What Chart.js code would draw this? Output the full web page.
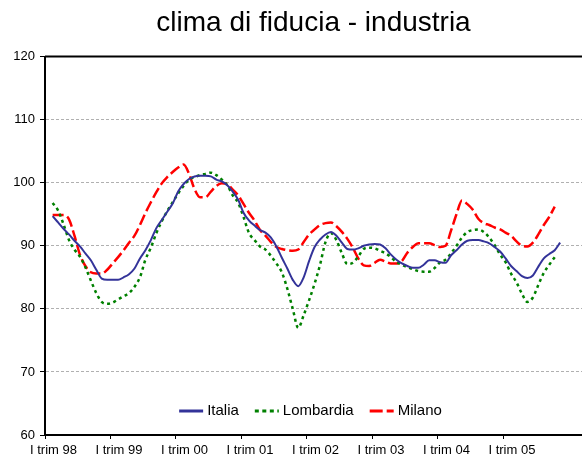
<!DOCTYPE html>
<html>
<head>
<meta charset="utf-8">
<script src="https://cdn.jsdelivr.net/npm/chart.js@4.4.0/dist/chart.umd.min.js"></script>
<style>
  body { margin: 0; background: #fff; }
  #wrap { position: relative; width: 582px; height: 459px; }
</style>
</head>
<body>
<div id="wrap"><canvas id="fiducia"></canvas></div>
<script>
const FONT = '"Liberation Sans", Arial, sans-serif';

// first quarter of every year, one tick every 12 months
const yearLabels = ['I trim 98', 'I trim 99', 'I trim 00', 'I trim 01', 'I trim 02', 'I trim 03', 'I trim 04', 'I trim 05'];
// first plotted month sits a little after the I trim 98 tick
const startMonth = 1.4;

const italia = [
  94.7, 93.7, 92.7, 91.8, 90.8, 89.9, 88.8, 87.7, 86.2, 84.8, 84.6, 84.6,
  84.6, 85.0, 85.5, 86.4, 88.0, 89.3, 90.9, 92.8, 94.1, 95.4, 96.7, 98.6,
  99.8, 100.6, 101.0, 101.1, 101.1, 101.0, 100.5, 100.2, 99.6, 98.6, 97.3, 95.2,
  94.0, 93.2, 92.5, 92.1, 91.3, 89.9, 88.1, 86.4, 84.6, 83.6, 85.0, 87.6,
  89.8, 91.0, 91.8, 92.2, 91.6, 90.5, 89.5, 89.4, 89.6, 90.0, 90.2, 90.3,
  90.2, 89.6, 88.6, 87.8, 87.2, 86.8, 86.5, 86.5, 87.0, 87.7, 87.7, 87.4,
  87.3, 88.5, 89.3, 90.2, 90.8, 90.9, 90.9, 90.7, 90.4, 89.8, 89.1, 88.0,
  86.8, 86.0, 85.2, 84.9, 85.3, 86.7, 88.0, 88.7, 89.3, 90.5
];

const lombardia = [
  96.8, 95.6, 93.4, 90.9, 89.4, 88.3, 86.6, 84.5, 82.5, 81.1, 80.8, 81.0,
  81.5, 82.0, 82.5, 83.5, 85.0, 87.8, 89.7, 92.0, 93.9, 95.5, 96.9, 98.3,
  99.5, 100.5, 100.9, 101.2, 101.4, 101.6, 101.2, 100.5, 99.6, 98.0, 96.8, 94.5,
  92.0, 90.9, 89.9, 89.4, 88.4, 87.2, 85.8, 83.2, 80.0, 77.0, 79.0, 81.4,
  84.0, 87.0, 90.6, 92.0, 90.9, 88.8, 87.1, 87.3, 88.3, 89.5, 89.7, 89.6,
  89.2, 88.8, 88.2, 87.4, 87.0, 86.6, 86.3, 86.0, 85.9, 85.9, 86.5, 87.4,
  87.8, 88.8, 90.0, 91.3, 92.2, 92.5, 92.6, 92.2, 91.3, 90.1, 88.6, 87.4,
  85.6, 84.2, 82.4, 81.1, 81.8, 83.8, 85.7, 87.0, 88.2
];

const milano = [
  94.9, 94.9, 94.9, 94.2, 91.6, 88.6, 86.8, 85.8, 85.6, 85.6, 86.2, 87.2,
  88.2, 89.3, 90.5, 91.6, 93.3, 95.2, 96.9, 98.5, 99.9, 100.9, 101.7, 102.4,
  102.9, 101.4, 99.0, 97.7, 97.7, 98.6, 99.5, 99.9, 99.8, 98.9, 98.0, 96.6,
  95.2, 94.0, 92.5, 91.6, 90.6, 89.8, 89.5, 89.3, 89.2, 89.4, 90.6, 91.8,
  92.6, 93.3, 93.6, 93.7, 93.1, 92.2, 91.1, 89.7, 88.0, 86.9, 86.8, 87.3,
  87.8, 87.5, 87.2, 87.2, 87.6, 88.9, 89.8, 90.4, 90.4, 90.4, 90.1, 89.8,
  90.0, 92.4, 95.0, 97.2, 96.6, 95.7, 94.3, 93.6, 93.3, 92.9, 92.6, 92.1,
  91.6, 90.7, 90.0, 89.9, 90.5, 91.8, 93.3, 94.6, 96.2
];

const toPoints = values => values.map((v, i) => ({x: startMonth + i, y: v}));

const series = [
  {label: 'Italia', values: italia, color: '#333399', width: 2, dash: []},
  {label: 'Lombardia', values: lombardia, color: '#008000', width: 2.5, dash: [3, 3.5]},
  {label: 'Milano', values: milano, color: '#ff0000', width: 2.5, dash: [11, 4]},
];

// top frame line of the plot area
const frameTop = {
  id: 'frameTop',
  afterDraw(chart) {
    const {ctx, chartArea} = chart;
    ctx.save();
    ctx.strokeStyle = '#000';
    ctx.lineWidth = 2;
    ctx.beginPath();
    ctx.moveTo(chartArea.left, chartArea.top);
    ctx.lineTo(chartArea.right, chartArea.top);
    ctx.stroke();
    ctx.restore();
  }
};

// legend drawn inside the plot, near the bottom
const innerLegend = {
  id: 'innerLegend',
  afterDraw(chart) {
    const {ctx, chartArea} = chart;
    const sample = 24, textGap = 4, itemGap = 16;
    ctx.save();
    ctx.font = '15px ' + FONT;
    ctx.textBaseline = 'middle';
    ctx.fillStyle = '#000';
    const widths = chart.data.datasets.map(ds => ctx.measureText(ds.label).width);
    const total = widths.reduce((a, w) => a + w + sample + textGap, 0) + itemGap * (widths.length - 1);
    let x = (chartArea.left + chartArea.right) / 2 - 3 - total / 2;
    const y = chartArea.bottom - 24;
    chart.data.datasets.forEach((ds, i) => {
      ctx.strokeStyle = ds.borderColor;
      ctx.lineWidth = 3;
      ctx.setLineDash(i === 1 ? [4, 3.5] : i === 2 ? [13, 4] : []);
      ctx.beginPath();
      ctx.moveTo(x, y);
      ctx.lineTo(x + sample, y);
      ctx.stroke();
      ctx.setLineDash([]);
      ctx.fillText(ds.label, x + sample + textGap, y);
      x += sample + textGap + widths[i] + itemGap;
    });
    ctx.restore();
  }
};

const config = {
  type: 'line',
  data: {
    datasets: series.map(s => ({
      label: s.label,
      data: toPoints(s.values),
      borderColor: s.color,
      borderWidth: s.width,
      borderDash: s.dash,
      pointRadius: 0,
      fill: false,
      cubicInterpolationMode: 'monotone',
    }))
  },
  options: {
    responsive: true,
    maintainAspectRatio: false,
    animation: false,
    layout: {padding: 0},
    plugins: {
      legend: {display: false},
      tooltip: {enabled: false},
      title: {
        display: true,
        text: 'clima di fiducia - industria',
        fullSize: false,
        color: '#000',
        font: {family: FONT, size: 28, weight: 'normal'},
        padding: {top: 6, bottom: 17},
      },
    },
    scales: {
      x: {
        type: 'linear',
        min: 0,
        max: 98.4,
        afterBuildTicks: axis => {
          axis.ticks = axis.ticks.filter(t => t.value % 12 === 0);
        },
        afterFit: axis => { axis.height = 24; },
        ticks: {
          stepSize: 12,
          autoSkip: false,
          maxRotation: 0,
          labelOffset: 8.5,
          padding: 4,
          color: '#000',
          font: {family: FONT, size: 13},
          callback: value => yearLabels[value / 12] || '',
        },
        grid: {drawOnChartArea: false, tickLength: 4, tickColor: '#000', tickWidth: 1},
        border: {color: '#000', width: 2},
      },
      y: {
        min: 60,
        max: 120,
        afterFit: axis => { axis.width = 45; },
        ticks: {
          stepSize: 10,
          padding: 5,
          color: '#000',
          font: {family: FONT, size: 13},
        },
        grid: {color: '#b0b0b0', lineWidth: 1, tickLength: 5, tickColor: '#000', tickWidth: 1, tickBorderDash: []},
        border: {color: '#000', width: 2, dash: [3, 2]},
      }
    }
  },
  plugins: [frameTop, innerLegend],
};

new Chart(document.getElementById('fiducia'), config);
</script>
</body>
</html>
